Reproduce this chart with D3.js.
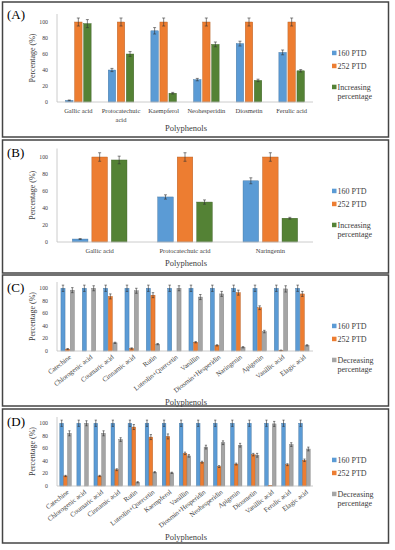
<!DOCTYPE html>
<html>
<head>
<meta charset="utf-8">
<script src="https://d3js.org/d3.v7.min.js"></script>
<style>
  body { margin: 0; background: #fff; }
  svg { display: block; font-family: "Liberation Serif", "Times New Roman", serif; }
</style>
</head>
<body>
<div id="chart"></div>
<script>
// ---- data ----
var catsA = ["Gallic acid", "Protocatechuic acid", "Kaempferol", "Neohesperidin", "Diosmetin", "Ferulic acid"];
var a160 = [2, 40, 89, 28, 73, 62];
var a252 = [100, 100, 100, 100, 100, 100];
var aInc = [98, 60, 11, 72, 27, 39];
var a160Err = [0.5, 2, 4, 1.5, 3, 3];
var a252Err = [5, 5, 5, 5, 5, 5];
var aIncErr = [5, 3, 1, 3, 1.5, 1.5];

var catsB = ["Gallic acid", "Protocatechuic acid", "Naringenin"];
var b160 = [3.5, 53, 72];
var b252 = [100, 100, 100];
var bInc = [96.5, 47, 28];
var b160Err = [0.5, 2.5, 3.5];
var b252Err = [5, 5, 5];
var bIncErr = [4.5, 2.5, 1];

var catsC = ["Catechine", "Chlorogenic acid", "Coumaric acid", "Cinnamic acid", "Rutin", "Luteolin+Quercetin",
  "Vanillin", "Diosmin+Hesperidin", "Naringenin", "Apigenin", "Vanillic acid", "Elagic acid"];
var c160 = [100, 100, 100, 100, 100, 100, 100, 100, 100, 100, 100, 100];
var c252 = [3, 0, 87, 4, 89, 0, 14, 9, 93, 69, 1, 91];
var cDec = [97, 100, 13, 96, 11, 100, 86, 91, 6, 31, 99, 9];
var c160Err = [5, 5, 5, 5, 5, 5, 5, 5, 5, 5, 5, 5];
var c252Err = [1, 0, 4, 1, 4, 0, 1, 1, 4, 3, 0.5, 4];
var cDecErr = [4, 4, 1, 4, 1, 4, 4, 4, 1, 2, 5, 1];

var catsD = ["Catechine", "Chlorogenic acid", "Coumaric acid", "Cinnamic acid", "Rutin", "Luteolin+Quercetin",
  "Kaempferol", "Vanillin", "Diosmin+Hesperidin", "Neohesperidin", "Apigenin", "Diosmetin",
  "Vanillic acid", "Ferulic acid", "Elagic acid"];
var d160 = [100, 100, 100, 100, 100, 100, 100, 100, 100, 100, 100, 100, 100, 100, 100];
var d252 = [16, 0, 16, 26, 94, 78, 79, 52, 38, 31, 35, 50, 1, 34, 41];
var dDec = [84, 100, 84, 74, 6, 22, 21, 48, 62, 69, 65, 49, 99, 66, 59];
var d160Err = [5, 5, 5, 5, 5, 5, 5, 5, 5, 5, 5, 5, 5, 5, 5];
var d252Err = [1, 0, 1, 1.5, 4, 4, 4, 2, 1.5, 1.5, 1.5, 2, 0, 1.5, 2];
var dDecErr = [4, 4, 4, 3, 1, 1, 1, 2, 3, 3, 3, 3, 4, 3, 3];

var yTicks = [0, 20, 40, 60, 80, 100];

var svg = d3.select("#chart").append("svg")
  .attr("width", 395)
  .attr("height", 550);

var colors = {
  blue: ["#5B9BD5", "#41719C"],
  orange: ["#ED7D31", "#AE5A21"],
  green: ["#548235", "#3B5E25"],
  gray: ["#A5A5A5", "#787878"]
};

function drawPanel(p) {
  var g = svg.append("g");

  g.append("rect")
    .attr("x", 2.5).attr("y", p.top)
    .attr("width", 386).attr("height", p.bottom - p.top)
    .attr("fill", "#fff")
    .attr("stroke", "#444").attr("stroke-width", 1.5);

  g.append("text")
    .attr("x", 7).attr("y", p.top + 17)
    .attr("font-size", 13)
    .text(p.tag);

  var x0 = d3.scaleBand().domain(p.cats).range([57, 313])
    .paddingInner(p.pad).paddingOuter(p.pad / 2);
  var x1 = d3.scaleBand().domain([0, 1, 2]).range([0, x0.bandwidth()]).paddingInner(p.gap);
  var y = d3.scaleLinear().domain([0, 110]).range([p.y0, p.y0 - p.h]);

  // axes lines
  g.append("line")
    .attr("x1", 57).attr("x2", 57)
    .attr("y1", y(110)).attr("y2", y(0))
    .attr("stroke", "#bfbfbf").attr("stroke-width", 0.8);

  g.selectAll(".ytick").data(yTicks).enter().append("text")
    .attr("x", 48).attr("y", function(d) { return y(d); })
    .attr("dy", "0.35em")
    .attr("text-anchor", "end")
    .attr("font-size", 5.8)
    .attr("fill", "#404040")
    .text(function(d) { return d; });

  g.append("text")
    .attr("transform", "translate(35," + ((y(0) + y(110)) / 2) + ") rotate(-90)")
    .attr("text-anchor", "middle")
    .attr("font-size", 8)
    .attr("fill", "#404040")
    .text("Percentage (%)");

  // bars
  p.series.forEach(function(s, si) {
    var grp = g.append("g");
    grp.selectAll("rect").data(s.values).enter().append("rect")
      .attr("x", function(d, i) { return x0(p.cats[i]) + x1(si); })
      .attr("y", function(d) { return y(d); })
      .attr("width", x1.bandwidth())
      .attr("height", function(d) { return y(0) - y(d); })
      .attr("fill", colors[s.color][0])
      .attr("stroke", colors[s.color][1])
      .attr("stroke-width", 0.4);

    // error bars
    var cw = Math.min(3, x1.bandwidth() * 0.6);
    s.values.forEach(function(v, i) {
      var e = s.err[i];
      if (!e) return;
      var cx = x0(p.cats[i]) + x1(si) + x1.bandwidth() / 2;
      var lo = Math.max(0, v - e), hi = v + e;
      grp.append("line")
        .attr("x1", cx).attr("x2", cx)
        .attr("y1", y(lo)).attr("y2", y(hi))
        .attr("stroke", "#333").attr("stroke-width", 0.6);
      [lo, hi].forEach(function(t) {
        grp.append("line")
          .attr("x1", cx - cw / 2).attr("x2", cx + cw / 2)
          .attr("y1", y(t)).attr("y2", y(t))
          .attr("stroke", "#333").attr("stroke-width", 0.6);
      });
    });
  });

  g.append("line")
    .attr("x1", 57).attr("x2", 313)
    .attr("y1", y(0)).attr("y2", y(0))
    .attr("stroke", "#bfbfbf").attr("stroke-width", 0.8);

  // category labels
  if (p.rotate) {
    g.selectAll(".xl").data(p.cats).enter().append("text")
      .attr("transform", function(d) {
        return "translate(" + (x0(d) + x0.bandwidth() / 2 + 2.5) + "," + (y(0) + 5) + ") rotate(-38)";
      })
      .attr("text-anchor", "end")
      .attr("dy", "0.35em")
      .attr("font-size", 6.8)
      .attr("fill", "#404040")
      .text(function(d) { return d; });
  } else {
    g.selectAll(".xl").data(p.cats).enter().append("text")
      .attr("x", function(d) { return x0(d) + x0.bandwidth() / 2; })
      .attr("y", y(0) + 11)
      .attr("text-anchor", "middle")
      .attr("font-size", 6.5)
      .attr("fill", "#404040")
      .each(function(d) {
        var t = d3.select(this);
        t.text(d);
        if (this.getComputedTextLength() > x0.step() && d.indexOf(" ") > 0) {
          var k = d.lastIndexOf(" ");
          t.text(null);
          var cx = x0(d) + x0.bandwidth() / 2;
          t.append("tspan").attr("x", cx).text(d.slice(0, k));
          t.append("tspan").attr("x", cx).attr("dy", 9).text(d.slice(k + 1));
        }
      });
  }

  g.append("text")
    .attr("x", 186).attr("y", p.titleY)
    .attr("text-anchor", "middle")
    .attr("font-size", 8.5)
    .attr("fill", "#404040")
    .text("Polyphenols");

  // legend
  var ly = [51, 64, 85];
  p.series.forEach(function(s, si) {
    var yy = p.top + ly[si];
    g.append("rect")
      .attr("x", 332).attr("y", yy - 2.3)
      .attr("width", 4.5).attr("height", 4.5)
      .attr("fill", colors[s.color][0]);
    var t = g.append("text")
      .attr("x", 337.5).attr("y", yy)
      .attr("dy", "0.35em")
      .attr("font-size", 8)
      .attr("fill", "#404040");
    var parts = s.name.split(" ");
    if (si === 2) {
      t.append("tspan").text(parts[0]);
      t.append("tspan").attr("x", 337.5).attr("dy", 9.5).text(parts[1]);
    } else {
      t.text(s.name);
    }
  });
}

drawPanel({
  tag: "(A)", top: 2, bottom: 137, y0: 102, h: 88, titleY: 131,
  cats: catsA, pad: 0.4, gap: 0.17, rotate: false,
  series: [
    { name: "160 PTD", color: "blue", values: a160, err: a160Err },
    { name: "252 PTD", color: "orange", values: a252, err: a252Err },
    { name: "Increasing percentage", color: "green", values: aInc, err: aIncErr }
  ]
});

drawPanel({
  tag: "(B)", top: 140, bottom: 273, y0: 242, h: 93.5, titleY: 266,
  cats: catsB, pad: 0.36, gap: 0.2, rotate: false,
  series: [
    { name: "160 PTD", color: "blue", values: b160, err: b160Err },
    { name: "252 PTD", color: "orange", values: b252, err: b252Err },
    { name: "Increasing percentage", color: "green", values: bInc, err: bIncErr }
  ]
});

drawPanel({
  tag: "(C)", top: 275, bottom: 406, y0: 351, h: 69, titleY: 405,
  cats: catsC, pad: 0.37, gap: 0.12, rotate: true,
  series: [
    { name: "160 PTD", color: "blue", values: c160, err: c160Err },
    { name: "252 PTD", color: "orange", values: c252, err: c252Err },
    { name: "Decreasing percentage", color: "gray", values: cDec, err: cDecErr }
  ]
});

drawPanel({
  tag: "(D)", top: 409, bottom: 543, y0: 486, h: 69, titleY: 540,
  cats: catsD, pad: 0.33, gap: 0.05, rotate: true,
  series: [
    { name: "160 PTD", color: "blue", values: d160, err: d160Err },
    { name: "252 PTD", color: "orange", values: d252, err: d252Err },
    { name: "Decreasing percentage", color: "gray", values: dDec, err: dDecErr }
  ]
});
</script>
</body>
</html>
